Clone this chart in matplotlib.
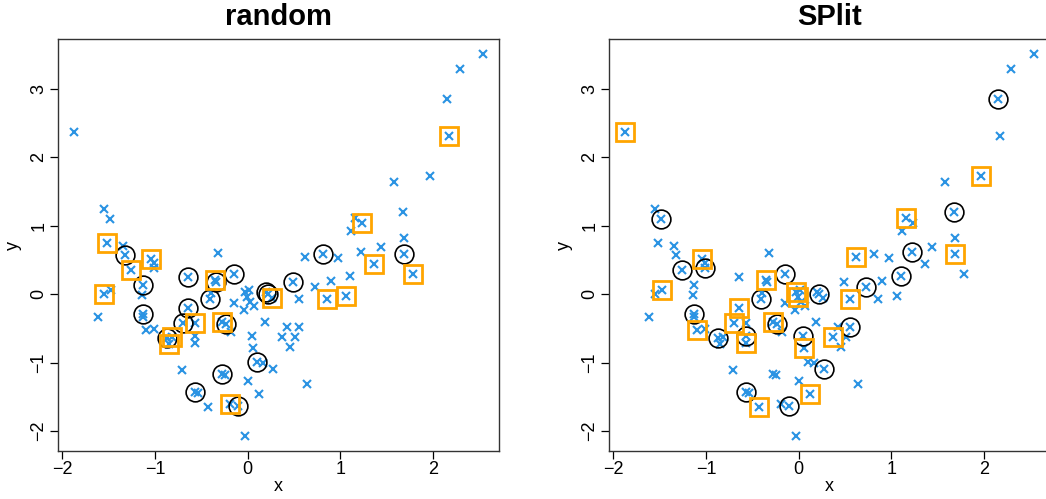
import numpy as np
import matplotlib
matplotlib.use("Agg")
import matplotlib.pyplot as plt

# Sample points (x, y)
x = np.array([
    -1.873, -1.550, -1.486, -1.514, -1.345, -1.322, -1.255, -1.045, -1.008, -1.015,
    -1.132, -1.548, -1.475, -1.138, -1.618, -1.132, -1.124, -1.100, -1.006, -0.870,
    -0.817, -0.843, -0.700, -0.638, -0.644, -0.568, -0.568, -0.568, -0.408, -0.390,
    -0.352, -0.345, -0.320, -0.151, -0.280, -0.230, -0.145, -0.030, 0.010, -0.006,
    0.030, 0.065, -0.035, 0.195, 0.220, 0.260, 0.045, 0.062, 0.100, 0.191,
    0.275, 0.000, 0.118, 0.490, 0.551, 0.426, 0.551, 0.372, 0.508, 0.462,
    0.640, -0.710, -0.275, -0.240, -0.570, -0.535, -0.422, -0.195, -0.104, -0.025,
    2.537, 2.296, 2.152, 2.173, 1.968, 1.583, 1.672, 1.236, 1.164, 1.118,
    1.688, 1.445, 1.226, 0.815, 0.620, 0.973, 1.688, 1.362, 1.784, 0.732,
    0.905, 1.100, 0.858, 1.067, 0.162, -0.175,
])
y = np.array([
    2.374, 1.252, 1.100, 0.748, 0.708, 0.580, 0.350, 0.515, 0.455, 0.385,
    0.135, 0.008, 0.068, -0.005, -0.336, -0.288, -0.336, -0.520, -0.505, -0.633,
    -0.628, -0.735, -0.420, -0.195, 0.255, -0.425, -0.618, -0.715, -0.068, 0.015,
    0.212, 0.180, 0.600, 0.292, -0.400, -0.430, -0.125, 0.030, 0.060, -0.035,
    -0.120, -0.170, -0.229, 0.035, 0.000, -0.060, -0.605, -0.789, -0.984, -0.400,
    -1.100, -1.276, -1.455, 0.172, -0.073, -0.480, -0.480, -0.619, -0.619, -0.765,
    -1.315, -1.115, -1.160, -1.180, -1.425, -1.445, -1.650, -1.610, -1.640, -2.069,
    3.508, 3.293, 2.861, 2.315, 1.722, 1.644, 1.206, 1.046, 1.118, 0.929,
    0.817, 0.695, 0.622, 0.593, 0.540, 0.526, 0.593, 0.442, 0.292, 0.111,
    0.199, 0.272, -0.069, -0.020, -1.007, -0.550,
])

# Selected subsets for each method
random_circles = [5, 10, 15, 19, 22, 23, 24, 28, 31, 33, 35, 43, 44, 48, 53, 62, 64, 68, 83, 86]
random_squares = [3, 6, 7, 11, 20, 21, 25, 30, 34, 45, 67, 73, 77, 87, 88, 92, 93]
split_circles = [2, 6, 9, 15, 19, 26, 28, 33, 35, 44, 46, 50, 56, 64, 68, 72, 76, 82, 89, 91]
split_squares = [0, 7, 12, 17, 22, 23, 27, 30, 34, 37, 39, 47, 52, 54, 57, 66, 74, 78, 84, 86]

titles = ["random", "SPlit"]
x_ticks = [-2, -1, 0, 1, 2]
y_ticks = [-2, -1, 0, 1, 2, 3]

plt.rcParams['font.family'] = ['Liberation Sans', 'DejaVu Sans']

W, H = 1046, 499
fig = plt.figure(figsize=(W / 100, H / 100), dpi=100)


def padded(v):
    lo, hi = v.min(), v.max()
    d = 0.04 * (hi - lo)
    return lo - d, hi + d


blue = '#2A93E3'
panels = [
    (57.7, random_circles, random_squares, titles[0]),
    (608.7, split_circles, split_squares, titles[1]),
]
for left_px, circ, sq, title in panels:
    ax = fig.add_axes([left_px / W, 48 / H, 441.3 / W, 412 / H])
    ax.plot(x, y, ls='none', marker='x', color=blue, ms=6, mew=1.5)
    ax.plot(x[circ], y[circ], ls='none', marker='o', mfc='none',
            mec='black', ms=13.5, mew=1.2)
    ax.plot(x[sq], y[sq], ls='none', marker='s', mfc='none',
            mec='#FFA500', ms=13.5, mew=2.0)
    ax.set_xlim(*padded(x))
    ax.set_ylim(*padded(y))
    ax.set_xticks(x_ticks)
    ax.set_yticks(y_ticks)
    ax.tick_params(length=5.5, width=0.9, labelsize=13, pad=2, color='black')
    for lab in ax.get_yticklabels():
        lab.set_rotation(90)
        lab.set_va('center')
    for s in ax.spines.values():
        s.set_linewidth(1.0)
        s.set_color('#333333')
    ax.set_xlabel('x', fontsize=13, labelpad=0)
    ax.set_ylabel('y', fontsize=13, labelpad=6)
    ax.set_title(title, fontsize=21, fontweight='bold', pad=10)

fig.savefig('out.png', dpi=100)
